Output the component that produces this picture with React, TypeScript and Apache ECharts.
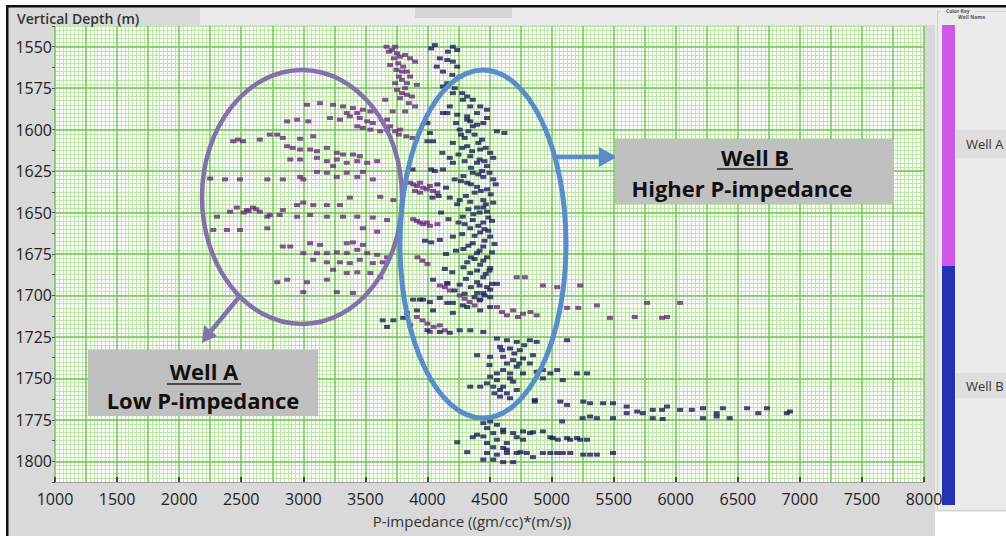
import React, { useEffect, useRef } from "react";
import * as echarts from "echarts";

// ---- axis definitions ----
const X_MIN = 1000;
const X_MAX = 8000;
const X_LABEL_STEP = 500;
const X_MAJOR_STEP = 250;
const X_MINOR_SPLIT = 8;
const Y_MIN = 1537.5;
const Y_MAX = 1812.5;
const Y_TICK_STEP = 12.5;
const Y_LABEL_STEP = 25;
const Y_MINOR_STEP = 2.5;
const yMajorValues = [1550, 1575, 1600, 1625, 1650, 1675, 1700, 1725, 1750, 1775, 1800];

const xTitle = "P-impedance ((gm/cc)*(m/s))";
const yTitle = "Vertical Depth (m)";
const legendItems = ["Well A", "Well B"];

// ---- data: [P-impedance, depth] ----
const wellA: number[][] = [
  [3670, 1550], [3740, 1550], [3715, 1552], [3755, 1554], [3780, 1556], [3820, 1555], [3860, 1557], [3900, 1559],
  [3765, 1560], [3805, 1562], [3795, 1565], [3835, 1565], [3860, 1568], [3795, 1570], [3835, 1572], [3915, 1573],
  [3755, 1576], [3795, 1578], [3835, 1579], [3875, 1580], [3660, 1582],
  [3690, 1553], [3730, 1557], [3700, 1561], [3750, 1564], [3770, 1568], [3740, 1572], [3820, 1575], [3780, 1581],
  [3850, 1584], [3900, 1586], [3820, 1589], [3720, 1589],
  [3030, 1585], [3135, 1584], [3240, 1585], [3320, 1586], [3400, 1587], [3480, 1588], [3540, 1589], [3435, 1590], [3350, 1590],
  [2870, 1595], [2950, 1594], [3040, 1595], [3215, 1593], [3295, 1594], [3375, 1592], [3455, 1593], [3515, 1595], [3560, 1596], [3675, 1594],
  [3435, 1598], [3480, 1599], [3540, 1600], [3620, 1601], [3675, 1600], [3780, 1600], [3700, 1598], [3740, 1601], [3770, 1603], [3830, 1604], [3880, 1605],
  [2435, 1607], [2475, 1606], [2515, 1607], [2650, 1606], [2730, 1603], [2790, 1603], [2835, 1605], [2975, 1605.5], [3080, 1604],
  [2870, 1610], [2915, 1611], [2975, 1612], [3055, 1612], [3110, 1613], [3190, 1611], [3270, 1614], [3320, 1615], [3400, 1615], [3455, 1616],
  [2895, 1618], [2975, 1618], [3110, 1617], [3190, 1619], [3270, 1618], [3350, 1620], [3435, 1619], [3515, 1620], [3595, 1619], [3240, 1622],
  [3110, 1625.5], [3190, 1626], [3270, 1628.5], [3350, 1626], [3435, 1628.5], [3480, 1625.5], [3560, 1630], [2975, 1628.5],
  [2250, 1629.5], [2370, 1630], [2490, 1630], [2710, 1630], [2835, 1630], [3000, 1630],
  [3860, 1632], [3885, 1633], [3915, 1634], [3940, 1632], [3965, 1635], [3995, 1636], [4020, 1634], [4045, 1637], [3900, 1637], [3940, 1638], [4080, 1638],
  [2410, 1649.5], [2465, 1647], [2545, 1648.5], [2595, 1647], [2650, 1649.5], [2730, 1651.5], [2835, 1648.5], [2950, 1645.5], [3000, 1644],
  [3080, 1645.5], [3190, 1645.5], [3295, 1645.5], [3375, 1641], [3620, 1640.5], [3725, 1642.5], [2560, 1649], [2620, 1648], [2520, 1650],
  [2305, 1652.5], [2710, 1652.5], [2810, 1651.5], [2950, 1652.5], [3055, 1651.5], [3190, 1652.5], [3320, 1652.5], [3435, 1652.5], [3560, 1653], [3675, 1654.5],
  [2275, 1660.5], [2385, 1660.5], [2490, 1660.5], [2710, 1659.5], [3480, 1659.5], [3595, 1661.5],
  [3885, 1654], [3915, 1655], [3940, 1656], [3965, 1657], [3995, 1656], [4020, 1658], [4080, 1657],
  [3055, 1668.5], [3135, 1669.5], [3350, 1668.5], [3400, 1668], [3480, 1669.5], [3000, 1674.5], [3110, 1674.5], [3190, 1674.5], [3270, 1674],
  [3350, 1674.5], [3435, 1672.5], [3515, 1674.5], [3595, 1675.5], [3675, 1677], [2835, 1670.5], [2895, 1670.5], [3080, 1678.5], [3190, 1680],
  [3295, 1680], [3375, 1680.5], [3455, 1678.5], [3560, 1680.5], [3640, 1680], [3240, 1684.5], [3350, 1686.5], [3435, 1686], [3540, 1686.5], [3620, 1689],
  [3920, 1677], [3960, 1679], [4000, 1681],
  [2790, 1692], [2870, 1690.5], [3030, 1692], [3270, 1698], [3400, 1698.5], [3000, 1698], [3190, 1690.5],
  [4100, 1694], [4140, 1695], [4180, 1697], [4160, 1693], [4260, 1700], [4300, 1702], [4340, 1704], [4380, 1706], [4420, 1703],
  [4560, 1707], [4600, 1710], [4640, 1712], [4690, 1709], [4730, 1713], [4770, 1711],
  [3915, 1713], [3960, 1715], [4000, 1717], [4050, 1719], [4100, 1718], [4140, 1721], [4020, 1722],
  [4830, 1710], [4880, 1712], [4930, 1694], [5230, 1694], [5365, 1706], [5770, 1704.5], [6035, 1704.5], [5470, 1713.5],
  [5670, 1713], [5890, 1713.5], [5930, 1713], [5125, 1707.5], [5215, 1707.5], [4785, 1689], [4720, 1689], [5045, 1695],
];

const wellB: number[][] = [
  [4205, 1550], [4240, 1552], [4165, 1553], [4030, 1551], [4060, 1549], [4100, 1557], [4160, 1558], [4205, 1559], [4240, 1562],
  [4075, 1562], [4125, 1565], [4200, 1567], [4260, 1568], [4160, 1572], [4220, 1575], [4280, 1578], [4320, 1580], [4365, 1582],
  [4425, 1586], [4480, 1588], [4180, 1586], [4125, 1590], [4240, 1591], [4320, 1592], [4345, 1595], [4400, 1597], [4480, 1593],
  [4125, 1574], [4205, 1578], [4285, 1582], [4345, 1586], [4400, 1590], [4160, 1590], [4320, 1594], [4365, 1598], [4450, 1596],
  [4000, 1596], [4020, 1602], [4000, 1607], [4045, 1607], [4205, 1608], [4320, 1610], [4425, 1612], [4505, 1614], [4345, 1616],
  [4400, 1620], [4480, 1622], [4205, 1620], [4125, 1624], [4365, 1626], [4450, 1628.5], [4530, 1630], [4320, 1632], [4400, 1634.5],
  [4480, 1636], [4180, 1641], [4260, 1642.5], [4345, 1643.5], [4450, 1642.5], [4530, 1644], [4400, 1647], [4480, 1649.5], [4285, 1652.5],
  [4365, 1654.5], [4450, 1656], [4345, 1659.5], [4425, 1662], [4505, 1664.5], [4205, 1664.5], [4100, 1666.5], [4365, 1668.5], [4450, 1670.5],
  [4400, 1674.5], [4480, 1677], [4320, 1680], [4425, 1681.5], [4505, 1683.5], [4345, 1686.5], [4450, 1689], [4400, 1692], [4480, 1695],
  [4045, 1690.5], [4160, 1692.5], [4260, 1693.5], [4400, 1698.5], [4505, 1701], [3940, 1702.5], [4020, 1704], [4100, 1701.5], [4205, 1704.5],
  [4320, 1707], [4425, 1709], [3915, 1709], [3835, 1710.5],
  [4260, 1600], [4300, 1605], [4380, 1603], [4420, 1618], [4440, 1625], [4290, 1628], [4380, 1638], [4420, 1650], [4300, 1657], [4460, 1660],
  [4380, 1678], [4350, 1695], [4460, 1700], [4280, 1611], [4310, 1640], [4330, 1670], [4500, 1685], [4520, 1655], [4440, 1606], [4470, 1645],
  [4030, 1624], [4060, 1625], [4040, 1641], [4090, 1640], [3980, 1667], [4030, 1668], [4560, 1601], [4620, 1602], [3880, 1624],
  [4230, 1596], [4270, 1603], [4330, 1601], [4410, 1608], [4470, 1611], [4360, 1613], [4250, 1615], [4300, 1619], [4460, 1619],
  [4350, 1623], [4410, 1627], [4500, 1626], [4270, 1631], [4350, 1633], [4430, 1637], [4510, 1639], [4240, 1645], [4330, 1648],
  [4450, 1647], [4370, 1651], [4490, 1653], [4250, 1656], [4410, 1658], [4490, 1661], [4280, 1663], [4380, 1664], [4460, 1667],
  [4290, 1672], [4420, 1673], [4520, 1674], [4350, 1677], [4450, 1679], [4290, 1683], [4400, 1685], [4470, 1687], [4310, 1690],
  [4420, 1694], [4520, 1693], [4300, 1699], [4380, 1701], [4140, 1684], [4200, 1686], [4220, 1697], [4120, 1614], [4180, 1617],
  [4080, 1633], [4150, 1635], [4220, 1630], [4110, 1650], [4170, 1654], [4230, 1673], [4150, 1675], [4530, 1617], [4550, 1633],
  [4540, 1669], [4560, 1693],
  [3885, 1702.5], [3965, 1702.5], [4045, 1709], [3640, 1715], [3725, 1715], [3805, 1713.5], [3675, 1719], [3860, 1718], [4000, 1721],
  [4100, 1722], [4180, 1722.5], [4260, 1721], [4345, 1721], [4450, 1722], [4450, 1698.5], [4505, 1696.5], [4425, 1702.5], [4505, 1707],
  [4285, 1706], [4160, 1704.5], [4205, 1710.5],
  [4560, 1726], [4640, 1727], [4720, 1728], [4585, 1731], [4665, 1732], [4745, 1733], [4825, 1727], [4880, 1728], [5125, 1727],
  [4400, 1736], [4505, 1737], [4610, 1737], [4690, 1739], [4770, 1738], [4825, 1741], [4720, 1743], [4610, 1745], [4560, 1747],
  [4665, 1747], [4770, 1747], [4880, 1746], [4930, 1745], [4990, 1747], [5045, 1745], [5205, 1747], [5285, 1747], [5090, 1751],
  [4930, 1750], [4505, 1749], [4560, 1751], [4665, 1750], [4345, 1755], [4425, 1755], [4480, 1753], [4530, 1755], [4585, 1757],
  [4640, 1759], [4585, 1761], [4665, 1762], [4865, 1763],
  [4600, 1733], [4700, 1735], [4780, 1730], [4640, 1741], [4740, 1741], [4690, 1752], [4610, 1755], [4720, 1757], [4540, 1759],
  [4500, 1742], [4850, 1736],
  [5070, 1764], [5125, 1766], [5255, 1764], [5310, 1765], [5415, 1765], [5495, 1765], [5605, 1767], [5690, 1770], [5735, 1771],
  [5815, 1769], [5890, 1769], [5930, 1767], [6035, 1769], [6130, 1769], [6220, 1768], [6330, 1771], [6380, 1768], [6575, 1768],
  [6665, 1771], [6735, 1768], [6895, 1771], [6920, 1770], [5250, 1774], [5310, 1773], [5365, 1774], [5495, 1774], [5605, 1771],
  [5815, 1774], [5895, 1774.5], [6220, 1774], [6330, 1773], [6435, 1774], [4865, 1764], [5085, 1776],
  [4450, 1777], [4505, 1776], [4560, 1778], [4480, 1780], [4400, 1784], [4450, 1785], [4530, 1783], [4610, 1782.5], [4690, 1783],
  [4770, 1782], [4825, 1783], [4930, 1782], [4560, 1787], [4640, 1789], [4720, 1785.5], [4770, 1787], [4480, 1789], [4530, 1791.5],
  [4610, 1792], [4480, 1795], [4560, 1796], [4640, 1795], [4720, 1795], [4800, 1795], [4450, 1799], [4530, 1799], [4610, 1800.5],
  [4690, 1800.5], [4320, 1794.5], [4240, 1788.5], [4365, 1785.5], [4930, 1795], [5090, 1795], [5150, 1795], [5255, 1796],
  [5310, 1796], [5365, 1796], [5495, 1795], [5150, 1787], [5230, 1787], [5285, 1787], [4990, 1785.5], [5050, 1787], [4610, 1781],
  [4850, 1782.5], [5010, 1786], [5125, 1786], [5205, 1786], [4640, 1793], [4750, 1794.5], [4850, 1797.5], [4990, 1795], [5045, 1795],
];

const FONT = "'Open Sans', sans-serif";
const MAJOR = "#74c458";
const MINOR = "#bee6ab";

export default function App() {
  const ref = useRef<HTMLDivElement>(null);

  useEffect(() => {
    const chart = echarts.init(ref.current!, undefined, { renderer: "svg" });

    const txt = (x: number, y: number, text: string, size: number, extra: any = {}) => ({
      type: "text",
      x,
      y,
      z: extra.z ?? 60,
      style: {
        text,
        fontSize: size,
        fontFamily: FONT,
        fontWeight: extra.weight ?? "normal",
        fill: extra.fill ?? "#333",
        align: extra.align ?? "left",
        verticalAlign: "middle",
      },
    });

    chart.setOption({
      animation: false,
      backgroundColor: "#ffffff",
      textStyle: { fontFamily: FONT },
      grid: { left: 55, right: 82, top: 26, bottom: 54, containLabel: false },
      xAxis: [
        {
          type: "value",
          min: X_MIN,
          max: X_MAX,
          interval: X_LABEL_STEP,
          position: "bottom",
          axisLine: { show: true, lineStyle: { color: "#a0a0a0", width: 1 } },
          axisTick: { show: true, inside: true, length: 5, lineStyle: { color: "#222", width: 1.5 } },
          axisLabel: { color: "#222", fontSize: 16, fontFamily: FONT, margin: 9, formatter: (v: number) => String(v) },
          splitLine: { show: false },
        },
        {
          type: "value",
          min: X_MIN,
          max: X_MAX,
          interval: X_MAJOR_STEP,
          position: "bottom",
          axisLine: { show: false },
          axisTick: { show: false },
          axisLabel: { show: false },
          splitLine: { show: true, lineStyle: { color: MAJOR, width: 1.5 } },
          minorTick: { show: false, splitNumber: X_MINOR_SPLIT },
          minorSplitLine: { show: true, lineStyle: { color: MINOR, width: 1 } },
        },
      ],
      yAxis: [
        {
          type: "value",
          inverse: true,
          min: Y_MIN,
          max: Y_MAX,
          interval: Y_TICK_STEP,
          axisLine: { show: false },
          axisTick: { show: true, length: 3, lineStyle: { color: "#555", width: 1 } },
          axisLabel: {
            color: "#222",
            fontSize: 16,
            fontFamily: FONT,
            margin: 3,
            formatter: (v: number) => (Math.abs(v % Y_LABEL_STEP) < 1e-6 ? String(v) : ""),
          },
          splitLine: { show: false },
        },
        {
          type: "value",
          inverse: true,
          min: Y_MIN,
          max: Y_MAX,
          interval: Y_MINOR_STEP,
          axisLine: { show: false },
          axisTick: { show: false },
          axisLabel: { show: false },
          splitLine: { show: true, lineStyle: { color: MINOR, width: 1 } },
        },
      ],
      series: [
        {
          name: "gridMajor",
          type: "scatter",
          xAxisIndex: 0,
          yAxisIndex: 0,
          data: [],
          z: 1,
          silent: true,
          markLine: {
            silent: true,
            z: 1,
            symbol: ["none", "none"],
            label: { show: false },
            lineStyle: { color: MAJOR, width: 1.5, type: "solid" },
            data: yMajorValues.map((v) => ({ yAxis: v })),
          },
        },
        {
          name: legendItems[0],
          type: "scatter",
          xAxisIndex: 0,
          yAxisIndex: 0,
          data: wellA,
          symbol: "rect",
          symbolSize: [6, 4],
          itemStyle: { color: "#692a7c" },
          z: 3,
        },
        {
          name: legendItems[1],
          type: "scatter",
          xAxisIndex: 0,
          yAxisIndex: 0,
          data: wellB,
          symbol: "rect",
          symbolSize: [6, 4],
          itemStyle: { color: "#1b1d58" },
          z: 4,
        },
      ],
      graphic: {
        elements: [
          // frame & panels
          { type: "rect", z: -20, shape: { x: 8, y: 7, width: 927, height: 529 }, style: { fill: "#d9d9d9" } },
          { type: "rect", z: -19, shape: { x: 200, y: 7, width: 735, height: 18 }, style: { fill: "#ececec" } },
          { type: "rect", z: -18, shape: { x: 415, y: 7, width: 97, height: 11 }, style: { fill: "#d6d6d6" } },
          { type: "rect", z: -19, shape: { x: 935, y: 7, width: 71, height: 505 }, style: { fill: "#ebebeb" } },
          { type: "rect", z: -18, shape: { x: 937.5, y: 11.5, width: 80, height: 499 }, style: { fill: "none", stroke: "#cfcfcf", lineWidth: 1 } },
          { type: "rect", z: -15, shape: { x: 6, y: 5, width: 1000, height: 2.5 }, style: { fill: "#111" } },
          { type: "rect", z: -15, shape: { x: 6, y: 5, width: 2.5, height: 531 }, style: { fill: "#111" } },
          { type: "rect", z: -10, shape: { x: 55, y: 26, width: 869, height: 456 }, style: { fill: "#fbfdf9" } },
          // titles
          txt(17, 18, yTitle, 14, { fill: "#333", weight: 600 }),
          txt(472, 521, xTitle, 15, { fill: "#333", align: "center" }),
          // color key
          { type: "rect", z: 10, shape: { x: 942, y: 25, width: 13, height: 241 }, style: { fill: "#cf57ea" } },
          { type: "rect", z: 10, shape: { x: 942, y: 266, width: 13, height: 239 }, style: { fill: "#2132b5" } },
          { type: "rect", z: 10, shape: { x: 940, y: 8, width: 35, height: 7 }, style: { fill: "#ebebeb" } },
          txt(946, 11, "Color Key", 5, { weight: "bold", fill: "#555" }),
          txt(958, 16.5, "Well Name", 5, { weight: "bold", fill: "#555" }),
          { type: "rect", z: 10, shape: { x: 956, y: 130, width: 50, height: 28 }, style: { fill: "#dedede" } },
          txt(966, 144, legendItems[0], 13, { fill: "#333" }),
          { type: "rect", z: 10, shape: { x: 956, y: 373, width: 50, height: 25 }, style: { fill: "#dedede" } },
          txt(966, 386, legendItems[1], 13, { fill: "#333" }),
          // annotations
          { type: "ellipse", z: 50, shape: { cx: 302, cy: 197, rx: 100, ry: 127 }, style: { fill: "none", stroke: "#8570ac", lineWidth: 4.5 } },
          { type: "line", z: 50, shape: { x1: 240, y1: 296, x2: 211, y2: 331 }, style: { stroke: "#8570ac", lineWidth: 4.5 } },
          { type: "polygon", z: 50, shape: { points: [[202, 343], [217, 336], [204, 325]] }, style: { fill: "#8570ac" } },
          { type: "ellipse", z: 50, shape: { cx: 483, cy: 244, rx: 83, ry: 174 }, style: { fill: "none", stroke: "#5a8cc8", lineWidth: 5 } },
          { type: "line", z: 50, shape: { x1: 556, y1: 157, x2: 601, y2: 157 }, style: { stroke: "#5a8cc8", lineWidth: 4.5 } },
          { type: "polygon", z: 50, shape: { points: [[617, 157], [599, 147], [599, 167]] }, style: { fill: "#5a8cc8" } },
          // label boxes
          { type: "rect", z: 55, shape: { x: 88, y: 350, width: 230, height: 66 }, style: { fill: "#bfbfbf" } },
          txt(204, 371, "Well A", 22, { weight: "bold", fill: "#111", align: "center" }),
          { type: "line", z: 60, shape: { x1: 167, y1: 384, x2: 241, y2: 384 }, style: { stroke: "#222", lineWidth: 1.5 } },
          txt(203, 400, "Low P-impedance", 22, { weight: "bold", fill: "#111", align: "center" }),
          { type: "rect", z: 55, shape: { x: 615, y: 139, width: 279, height: 65 }, style: { fill: "#c0c0c0" } },
          txt(755, 157, "Well B", 22, { weight: "bold", fill: "#111", align: "center" }),
          { type: "line", z: 60, shape: { x1: 717, y1: 169, x2: 793, y2: 169 }, style: { stroke: "#222", lineWidth: 1.5 } },
          txt(742, 188, "Higher P-impedance", 22, { weight: "bold", fill: "#111", align: "center" }),
        ],
      },
    });

    return () => chart.dispose();
  }, []);

  return (
    <div
      ref={ref}
      style={{ position: "fixed", left: 0, top: 0, width: 1006, height: 536 }}
    />
  );
}
